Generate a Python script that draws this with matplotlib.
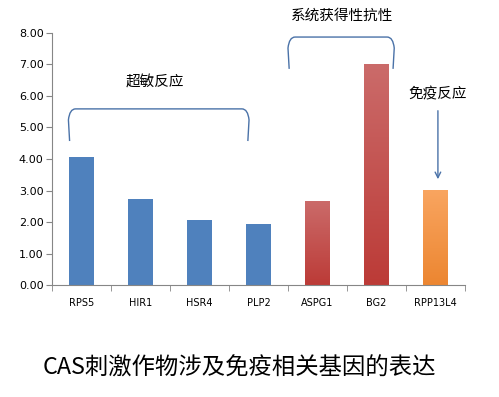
import matplotlib.pyplot as plt
import numpy as np
from matplotlib.colors import LinearSegmentedColormap
from matplotlib.patches import PathPatch
from matplotlib.path import Path
from matplotlib.ticker import FixedLocator

plt.rcParams['font.family'] = ['DejaVu Sans', 'Noto Sans CJK SC']

genes = ["RPS5", "HIR1", "HSR4", "PLP2", "ASPG1", "BG2", "RPP13L4"]
values = [4.07, 2.72, 2.05, 1.93, 2.68, 7.02, 3.02]
groups = ["hr", "hr", "hr", "hr", "sar", "sar", "immune"]
y_ticks = [0, 1, 2, 3, 4, 5, 6, 7, 8]

# bottom colour, top colour per group
group_colors = {
    "hr": ("#4F81BD", "#4F81BD"),
    "sar": ("#BC3B37", "#CB6B6A"),
    "immune": ("#EC8631", "#F9A560"),
}

fig = plt.figure(figsize=(4.99, 3.97), dpi=100)
ax = fig.add_axes([0.104, 0.282, 0.828, 0.635])

x = np.arange(len(genes))
bars = ax.bar(x, values, width=0.41, zorder=2)
for b, g in zip(bars, groups):
    lo, hi = group_colors[g]
    if lo == hi:
        b.set_facecolor(lo)
        continue
    b.set_facecolor("none")
    b.set_edgecolor("none")
    cmap = LinearSegmentedColormap.from_list(g, [lo, hi])
    grad = np.linspace(0, 1, 100).reshape(-1, 1)
    x0, w, h = b.get_x(), b.get_width(), b.get_height()
    im = ax.imshow(grad, cmap=cmap, origin="lower", aspect="auto",
                   extent=[x0, x0 + w, 0, h], zorder=2)
    im.set_clip_path(b)

ax.set_xlim(-0.5, len(genes) - 0.5)
ax.set_ylim(0, 8)
ax.set_yticks(y_ticks)
ax.set_yticklabels([f"{v:.2f}" for v in y_ticks], fontsize=8)
ax.set_xticks(x)
ax.set_xticklabels(genes, fontsize=7)
ax.xaxis.set_minor_locator(FixedLocator(np.arange(-0.5, len(genes), 1.0)))
ax.tick_params(axis="x", which="major", length=0, pad=9)
ax.tick_params(axis="x", which="minor", length=4, color="#868686", direction="out")
ax.tick_params(axis="y", length=4, color="#868686", pad=2)
for s in ["top", "right"]:
    ax.spines[s].set_visible(False)
for s in ["left", "bottom"]:
    ax.spines[s].set_color("#868686")

bracket_color = "#4A72A8"


def bracket(x0, x1, y_low, y_top):
    # curly-ish bracket opening downwards
    r, dx = 0.35, 0.1
    verts = [
        (x0, y_low), (x0 - 0.02, y_top - r),
        (x0, y_top), (x0 + dx, y_top),
        (x1 - dx, y_top),
        (x1, y_top), (x1 + 0.02, y_top - r),
        (x1, y_low),
    ]
    codes = [Path.MOVETO, Path.LINETO,
             Path.CURVE3, Path.CURVE3,
             Path.LINETO,
             Path.CURVE3, Path.CURVE3,
             Path.LINETO]
    ax.add_patch(PathPatch(Path(verts, codes), facecolor="none",
                           edgecolor=bracket_color, lw=1.0, clip_on=False,
                           zorder=3))


bracket(-0.2, 2.82, 4.57, 5.59)
ax.text(1.25, 6.44, "超敏反应", ha="center", va="center", fontsize=10.5)

bracket(3.52, 5.28, 6.86, 7.87)
ax.text(4.42, 8.57, "系统获得性抗性", ha="center", va="center", fontsize=10.5,
        clip_on=False)

ax.text(6.03, 6.06, "免疫反应", ha="center", va="center", fontsize=10.5)
ax.annotate("", xy=(6.04, 3.27), xytext=(6.04, 5.62),
            arrowprops=dict(arrowstyle="->", color=bracket_color, lw=1.0))

fig.text(0.48, 0.073, "CAS刺激作物涉及免疫相关基因的表达", ha="center", va="center",
         fontsize=16.8, fontweight="light",
         family=['Noto Sans CJK SC', 'DejaVu Sans'])

fig.savefig("out.png", dpi=100)
